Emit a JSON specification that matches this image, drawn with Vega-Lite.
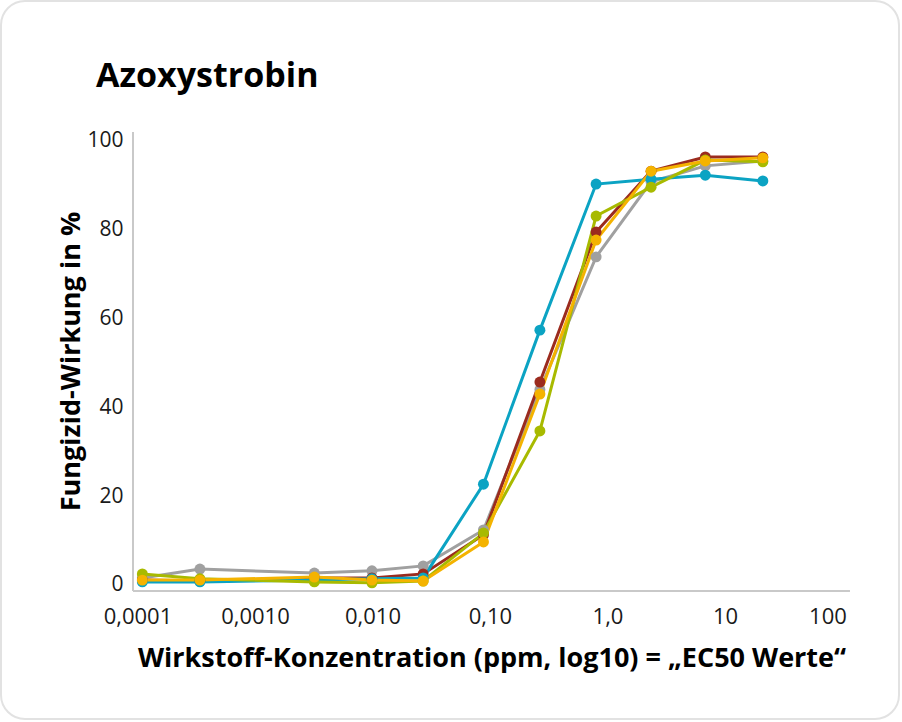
{
  "$schema": "https://vega.github.io/schema/vega-lite/v6.json",
  "width": 898,
  "height": 718,
  "autosize": {"type": "none"},
  "padding": {"left": 1, "top": 1, "right": 3, "bottom": 3},
  "background": "white",
  "title": {
    "text": "Azoxystrobin",
    "anchor": "start",
    "frame": "group",
    "baseline": "alphabetic",
    "offset": -120,
    "dx": 95,
    "font": "Open Sans",
    "fontSize": 34,
    "fontWeight": "bold",
    "color": "#000000"
  },
  "config": {
    "view": {"stroke": "#e2e2e2", "strokeWidth": 2, "cornerRadius": 24, "fill": "white"}
  },
  "data": {
    "values": [
      {"serie": "Serie 1", "konz": 0.00011, "wirkung": 1.6},
      {"serie": "Serie 1", "konz": 0.00034, "wirkung": 3.6},
      {"serie": "Serie 1", "konz": 0.0032, "wirkung": 2.7},
      {"serie": "Serie 1", "konz": 0.0099, "wirkung": 3.2},
      {"serie": "Serie 1", "konz": 0.027, "wirkung": 4.3},
      {"serie": "Serie 1", "konz": 0.088, "wirkung": 12.4},
      {"serie": "Serie 1", "konz": 0.266, "wirkung": 44.0},
      {"serie": "Serie 1", "konz": 0.8, "wirkung": 73.9},
      {"serie": "Serie 1", "konz": 2.35, "wirkung": 90.8},
      {"serie": "Serie 1", "konz": 6.8, "wirkung": 94.4},
      {"serie": "Serie 1", "konz": 21, "wirkung": 95.5},
      {"serie": "Serie 2", "konz": 0.00011, "wirkung": 1.1},
      {"serie": "Serie 2", "konz": 0.00034, "wirkung": 0.9},
      {"serie": "Serie 2", "konz": 0.0032, "wirkung": 1.6},
      {"serie": "Serie 2", "konz": 0.0099, "wirkung": 1.6},
      {"serie": "Serie 2", "konz": 0.027, "wirkung": 2.5},
      {"serie": "Serie 2", "konz": 0.088, "wirkung": 11.3},
      {"serie": "Serie 2", "konz": 0.266, "wirkung": 45.7},
      {"serie": "Serie 2", "konz": 0.8, "wirkung": 79.5},
      {"serie": "Serie 2", "konz": 2.35, "wirkung": 93.2},
      {"serie": "Serie 2", "konz": 6.8, "wirkung": 96.4},
      {"serie": "Serie 2", "konz": 21, "wirkung": 96.4},
      {"serie": "Serie 3", "konz": 0.00011, "wirkung": 0.7},
      {"serie": "Serie 3", "konz": 0.00034, "wirkung": 0.7},
      {"serie": "Serie 3", "konz": 0.0032, "wirkung": 1.1},
      {"serie": "Serie 3", "konz": 0.0099, "wirkung": 1.4},
      {"serie": "Serie 3", "konz": 0.027, "wirkung": 1.6},
      {"serie": "Serie 3", "konz": 0.088, "wirkung": 22.7},
      {"serie": "Serie 3", "konz": 0.266, "wirkung": 57.4},
      {"serie": "Serie 3", "konz": 0.8, "wirkung": 90.3},
      {"serie": "Serie 3", "konz": 2.35, "wirkung": 91.4},
      {"serie": "Serie 3", "konz": 6.8, "wirkung": 92.3},
      {"serie": "Serie 3", "konz": 21, "wirkung": 91.0},
      {"serie": "Serie 4", "konz": 0.00011, "wirkung": 2.5},
      {"serie": "Serie 4", "konz": 0.00034, "wirkung": 1.4},
      {"serie": "Serie 4", "konz": 0.0032, "wirkung": 0.7},
      {"serie": "Serie 4", "konz": 0.0099, "wirkung": 0.5},
      {"serie": "Serie 4", "konz": 0.027, "wirkung": 0.9},
      {"serie": "Serie 4", "konz": 0.088, "wirkung": 11.7},
      {"serie": "Serie 4", "konz": 0.266, "wirkung": 34.7},
      {"serie": "Serie 4", "konz": 0.8, "wirkung": 83.1},
      {"serie": "Serie 4", "konz": 2.35, "wirkung": 89.6},
      {"serie": "Serie 4", "konz": 6.8, "wirkung": 95.7},
      {"serie": "Serie 4", "konz": 21, "wirkung": 95.3},
      {"serie": "Serie 5", "konz": 0.00011, "wirkung": 1.1},
      {"serie": "Serie 5", "konz": 0.00034, "wirkung": 1.1},
      {"serie": "Serie 5", "konz": 0.0032, "wirkung": 1.8},
      {"serie": "Serie 5", "konz": 0.0099, "wirkung": 1.1},
      {"serie": "Serie 5", "konz": 0.027, "wirkung": 0.9},
      {"serie": "Serie 5", "konz": 0.088, "wirkung": 9.7},
      {"serie": "Serie 5", "konz": 0.266, "wirkung": 43.0},
      {"serie": "Serie 5", "konz": 0.8, "wirkung": 77.7},
      {"serie": "Serie 5", "konz": 2.35, "wirkung": 93.2},
      {"serie": "Serie 5", "konz": 6.8, "wirkung": 95.5},
      {"serie": "Serie 5", "konz": 21, "wirkung": 96.2}
    ]
  },
  "layer": [
    {
      "mark": {"type": "rule", "color": "#c9c9c9", "strokeWidth": 1.5},
      "encoding": {
        "x": {"datum": 0.00009155, "type": "quantitative"},
        "x2": {"datum": 115.8},
        "y": {"datum": -1.35, "type": "quantitative"}
      }
    },
    {
      "mark": {"type": "rule", "color": "#c9c9c9", "strokeWidth": 1.5},
      "encoding": {
        "x": {"datum": 0.00009155, "type": "quantitative"},
        "y": {"datum": -1.35, "type": "quantitative"},
        "y2": {"datum": 102.03}
      }
    },
    {
      "mark": {"type": "line", "strokeWidth": 3},
      "encoding": {
        "x": {
          "field": "konz",
          "type": "quantitative",
          "scale": {"type": "log", "domain": [0.000006894, 302.7], "nice": false},
          "axis": {
            "values": [0.0001, 0.001, 0.01, 0.1, 1, 10, 100],
            "labelExpr": "datum.value < 0.0005 ? '0,0001' : datum.value < 0.005 ? '0,0010' : datum.value < 0.05 ? '0,010' : datum.value < 0.5 ? '0,10' : datum.value < 5 ? '1,0' : datum.value < 50 ? '10' : '100'",
            "domain": false,
            "ticks": false,
            "tickSize": 0,
            "grid": false,
            "offset": -128,
            "labelFont": "Open Sans",
            "labelFontSize": 22,
            "labelColor": "#1a1a1a",
            "labelBaseline": "alphabetic",
            "labelPadding": 32,
            "labelFlush": false,
            "labelOverlap": false,
            "labelOffset": {"condition": {"test": "datum.value > 50", "value": -15}, "value": 0},
            "title": "Wirkstoff-Konzentration (ppm, log10) = „EC50 Werte“",
            "titleFont": "Open Sans",
            "titleFontSize": 27,
            "titleFontWeight": "bold",
            "titleColor": "#000000",
            "titleX": 490.5,
            "titleY": 75,
            "titleBaseline": "alphabetic",
            "titleAlign": "center"
          }
        },
        "y": {
          "field": "wirkung",
          "type": "quantitative",
          "scale": {"domain": [-30.18, 131.53], "nice": false, "zero": false},
          "axis": {
            "values": [0, 20, 40, 60, 80, 100],
            "domain": false,
            "ticks": false,
            "tickSize": 0,
            "grid": false,
            "offset": -132,
            "labelPadding": 10,
            "labelFont": "Open Sans",
            "labelFontSize": 21,
            "labelColor": "#1a1a1a",
            "title": "Fungizid-Wirkung in %",
            "titleFont": "Open Sans",
            "titleFontSize": 27,
            "titleFontWeight": "bold",
            "titleColor": "#000000",
            "titleAngle": -90,
            "titleX": -54,
            "titleY": 360,
            "titleBaseline": "alphabetic",
            "titleAlign": "center"
          }
        },
        "color": {
          "field": "serie",
          "type": "nominal",
          "scale": {
            "domain": ["Serie 1", "Serie 2", "Serie 3", "Serie 4", "Serie 5"],
            "range": ["#a0a0a0", "#9b2b1e", "#0ba3c3", "#a8ba00", "#f4b300"]
          },
          "legend": null
        }
      }
    },
    {
      "mark": {"type": "point", "filled": true, "size": 120, "opacity": 1},
      "encoding": {
        "x": {"field": "konz", "type": "quantitative"},
        "y": {"field": "wirkung", "type": "quantitative"},
        "color": {"field": "serie", "type": "nominal"}
      }
    }
  ]
}
